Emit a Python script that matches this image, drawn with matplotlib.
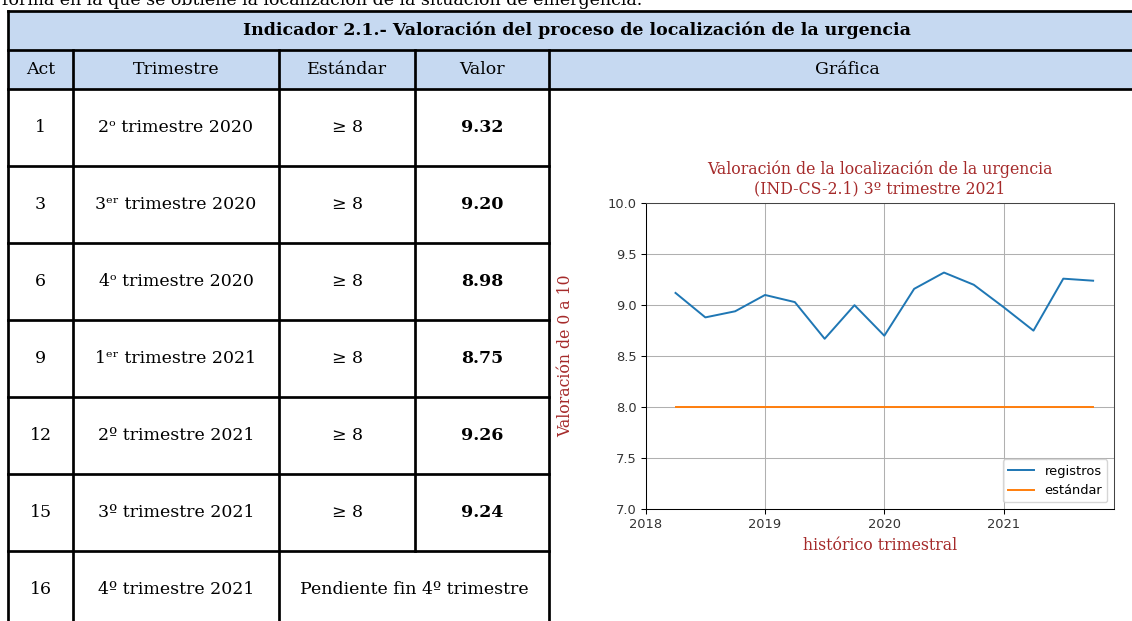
import matplotlib.pyplot as plt
from matplotlib.patches import Rectangle

# --- datos de la tabla ---
acts = ["1", "3", "6", "9", "12", "15", "16"]
trimestres = ["2\u1d52 trimestre 2020", "3\u1d49\u02b3 trimestre 2020", "4\u1d52 trimestre 2020",
              "1\u1d49\u02b3 trimestre 2021", "2\u00ba trimestre 2021", "3\u00ba trimestre 2021",
              "4\u00ba trimestre 2021"]
estandares = ["\u2265 8", "\u2265 8", "\u2265 8", "\u2265 8", "\u2265 8", "\u2265 8"]
valores = ["9.32", "9.20", "8.98", "8.75", "9.26", "9.24"]
pendiente = "Pendiente fin 4\u00ba trimestre"
cabecera = ["Act", "Trimestre", "Est\u00e1ndar", "Valor", "Gr\u00e1fica"]
titulo_tabla = "Indicador 2.1.- Valoraci\u00f3n del proceso de localizaci\u00f3n de la urgencia"

# --- datos del gráfico ---
periodos = [2018.25, 2018.5, 2018.75, 2019.0, 2019.25, 2019.5, 2019.75, 2020.0,
            2020.25, 2020.5, 2020.75, 2021.0, 2021.25, 2021.5, 2021.75]
registros = [9.12, 8.88, 8.94, 9.10, 9.03, 8.67, 9.00, 8.70,
             9.16, 9.32, 9.20, 8.98, 8.75, 9.26, 9.24]
estandar = [8.0, 8.0, 8.0, 8.0, 8.0, 8.0, 8.0, 8.0,
            8.0, 8.0, 8.0, 8.0, 8.0, 8.0, 8.0]
anios = [2018, 2019, 2020, 2021]
yticks = [7.0, 7.5, 8.0, 8.5, 9.0, 9.5, 10.0]

fig = plt.figure(figsize=(11.32, 6.21), dpi=100)

# capa de la tabla en coordenadas de pixel
bg = fig.add_axes([0, 0, 1, 1])
bg.set_xlim(0, 1132)
bg.set_ylim(621, 0)
bg.axis('off')

serif = ['DejaVu Serif', 'DejaVu Sans']
fs = 12.5
lw = 1.95

cols = [8, 73, 279, 415, 549, 1146]
rows = [89, 166, 243, 320, 397, 474, 551, 628]

bg.add_patch(Rectangle((8, 11), 1138, 78, facecolor='#c6d9f1', edgecolor='none'))

# texto cortado arriba
bg.text(2, 5, "forma en la que se obtiene la localizaci\u00f3n de la situaci\u00f3n de emergencia.",
        family=serif, fontsize=fs, va='baseline', ha='left')

# lineas
for y in [11, 50, 89]:
    bg.plot([8, 1146], [y, y], color='black', lw=lw)
for y in rows[1:7]:
    bg.plot([8, 549], [y, y], color='black', lw=lw)
bg.plot([8, 8], [11, 640], color='black', lw=lw)
for x in [73, 279, 549]:
    bg.plot([x, x], [50, 640], color='black', lw=lw)
bg.plot([415, 415], [50, 551], color='black', lw=lw)

bg.text(577, 30.5, titulo_tabla, family=serif, fontsize=fs, fontweight='bold',
        ha='center', va='center')
centros = [(cols[i] + cols[i + 1]) / 2 for i in range(5)]
for cx, t in zip(centros, cabecera):
    bg.text(cx, 69.5, t, family=serif, fontsize=fs, ha='center', va='center')

for i in range(7):
    cy = (rows[i] + rows[i + 1]) / 2
    bg.text(centros[0], cy, acts[i], family=serif, fontsize=fs, ha='center', va='center')
    bg.text(centros[1], cy, trimestres[i], family=serif, fontsize=fs, ha='center', va='center')
    if i < 6:
        bg.text(centros[2], cy, estandares[i], family=serif, fontsize=fs, ha='center', va='center')
        bg.text(centros[3], cy, valores[i], family=serif, fontsize=fs, fontweight='bold',
                ha='center', va='center')
    else:
        bg.text((cols[2] + cols[4]) / 2, cy, pendiente, family=serif, fontsize=fs,
                ha='center', va='center')

# grafico
ax = fig.add_axes([0.5704, 0.1804, 0.4137, 0.4923])
ax.plot(periodos, registros, color='#1f77b4', lw=1.41, label='registros')
ax.plot(periodos, estandar, color='#ff7f0e', lw=1.41, label='est\u00e1ndar')
ax.set_xlim(left=2018)
ax.set_ylim(7, 10)
ax.set_xticks(anios)
ax.set_xticklabels([str(a) for a in anios])
ax.set_yticks(yticks)
ax.set_yticklabels(["%.1f" % v for v in yticks])
ax.grid(True, color='#b0b0b0', lw=0.75)
ax.tick_params(labelsize=9.4, length=3.3, width=0.75, labelcolor='#333333', pad=3.3)
for s in ['top', 'right']:
    ax.spines[s].set_color('#444444')
for s in ax.spines.values():
    s.set_linewidth(0.75)

rojo = '#a52a2a'
ax.set_title("Valoraci\u00f3n de la localizaci\u00f3n de la urgencia\n(IND-CS-2.1) 3\u00ba trimestre 2021",
             color=rojo, family='DejaVu Serif', fontsize=11.3, pad=7)
ax.set_ylabel("Valoraci\u00f3n de 0 a 10", color=rojo, family='DejaVu Serif', fontsize=11.3,
              labelpad=24)
ax.set_xlabel("hist\u00f3rico trimestral", color=rojo, family='DejaVu Serif', fontsize=11.3)
ax.legend(loc='lower right', fontsize=9.4)

fig.savefig('out.png', dpi=100)
